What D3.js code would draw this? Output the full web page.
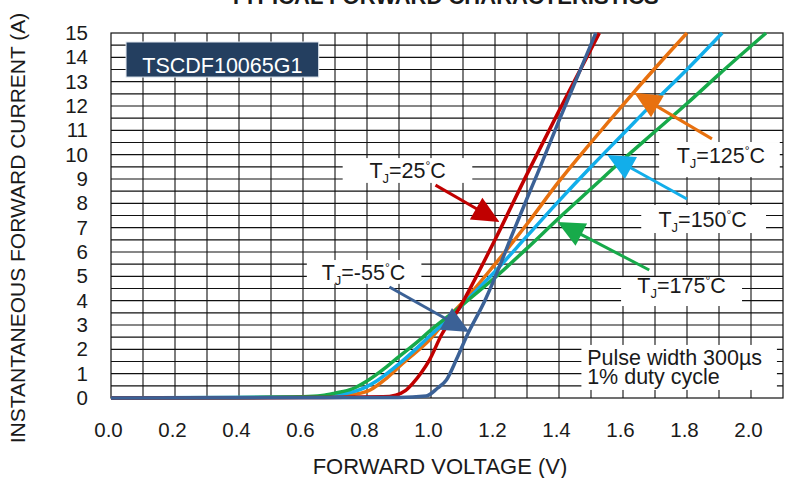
<!DOCTYPE html>
<html>
<head>
<meta charset="utf-8">
<script src="https://cdn.jsdelivr.net/npm/d3@7"></script>
<style>
	body { margin: 0; background: #fff; }
	svg text { font-family: "Liberation Sans", Arial, sans-serif; fill: #1a1a1a; }
</style>
</head>
<body>
<svg id="chart" width="790" height="478"></svg>
<script>
const Width = 790;
const Height = 478;
const margin = { top: 33, right: 6, bottom: 80, left: 111 };

// forward characteristic curves, [voltage (V), current (A)]
const curve175 = [[0, 0], [0.3, 0.01], [0.6, 0.05], [0.66, 0.1], [0.70, 0.2], [0.755, 0.38], [0.80, 0.7], [0.86, 1.27], [0.90, 1.7], [0.964, 2.38], [1.0, 2.8], [1.067, 3.5], [1.10, 3.85], [1.2, 4.95], [1.3, 6.15], [1.4, 7.4], [1.5, 8.6], [1.6, 9.8], [1.7, 10.95], [1.8, 12.1], [1.9, 13.3], [2.047, 15]];
const curve150 = [[0, 0], [0.6, 0.04], [0.68, 0.08], [0.72, 0.15], [0.78, 0.35], [0.83, 0.7], [0.9, 1.4], [0.96, 2.1], [1.0, 2.6], [1.083, 3.6], [1.1, 3.85], [1.2, 5.2], [1.3, 6.65], [1.4, 8.1], [1.5, 9.5], [1.6, 10.85], [1.7, 12.2], [1.8, 13.5], [1.91, 15]];
const curve125 = [[0, 0], [0.6, 0.03], [0.72, 0.08], [0.76, 0.15], [0.81, 0.33], [0.86, 0.8], [0.912, 1.43], [0.995, 2.38], [1.067, 3.5], [1.1, 3.95], [1.2, 5.5], [1.3, 7.15], [1.4, 8.9], [1.5, 10.5], [1.6, 12.05], [1.7, 13.55], [1.80, 15]];
const curve25 = [[0, 0], [0.6, 0.02], [0.85, 0.05], [0.89, 0.12], [0.92, 0.3], [0.943, 0.6], [0.97, 1.05], [0.995, 1.56], [1.033, 2.6], [1.089, 3.7], [1.114, 4.3], [1.2, 6.5], [1.3, 9.2], [1.4, 11.8], [1.526, 15]];
const curveMinus55 = [[0, 0], [0.9, 0.02], [0.985, 0.08], [1.02, 0.4], [1.048, 0.74], [1.08, 1.6], [1.11, 2.5], [1.17, 4.05], [1.214, 5.4], [1.25, 6.6], [1.3, 8.2], [1.332, 9.2], [1.4, 11.4], [1.515, 15]];

// draw order matches the picture: blue ends up on top
const series = [
	{ temp: "125", color: "#E8710F", points: curve125 },
	{ temp: "150", color: "#12AEEA", points: curve150 },
	{ temp: "175", color: "#17AA4A", points: curve175 },
	{ temp: "25", color: "#C00000", points: curve25 },
	{ temp: "-55", color: "#3B6196", points: curveMinus55 }
];

const voltTicks = [0, 0.2, 0.4, 0.6, 0.8, 1.0, 1.2, 1.4, 1.6, 1.8, 2.0];
const currentTicks = [0, 1, 2, 3, 4, 5, 6, 7, 8, 9, 10, 11, 12, 13, 14, 15];

// callouts, all placed in data units: box [v0, v1, i0, i1], text anchor, arrow start and tip
const callouts = [
	{ temp: "25", color: "#C00000", box: [0.724, 1.129, 8.84, 9.86], text: [0.927, 9.04], from: [1.014, 8.75], to: [1.214, 7.23] },
	{ temp: "-55", color: "#3B6196", box: [0.612, 0.970, 4.69, 5.67], text: [0.789, 4.85], from: [0.870, 4.56], to: [1.120, 2.71] },
	{ temp: "125", color: "#E8710F", box: [1.713, 2.090, 9.08, 10.52], text: [1.906, 9.66], from: [1.878, 10.65], to: [1.635, 12.54] },
	{ temp: "150", color: "#12AEEA", box: [1.657, 2.047, 6.78, 7.93], text: [1.849, 7.03], from: [1.800, 8.18], to: [1.551, 9.99] },
	{ temp: "175", color: "#17AA4A", box: [1.594, 1.972, 3.78, 4.97], text: [1.783, 4.32], from: [1.682, 5.26], to: [1.395, 7.23] }
];

const noteLines = ["Pulse width 300\u00b5s", "1% duty cycle"];

const chart = d3.select("#chart");

const x = d3.scaleLinear().domain([0, 2.1]).range([margin.left, Width - margin.right - 1]);
const y = d3.scaleLinear().domain([0, 15]).range([Height - margin.bottom, margin.top]);

// grid: every 0.1 V and every 0.5 A
const grid = chart.append("g").attr("stroke", "#111").attr("stroke-width", 1.1);
grid.selectAll("line.v").data(d3.range(1, 21).map(d => d / 10)).enter().append("line")
	.attr("x1", d => x(d)).attr("x2", d => x(d)).attr("y1", y(0)).attr("y2", y(15));
grid.selectAll("line.h").data(d3.range(1, 30).map(d => d / 2)).enter().append("line")
	.attr("x1", x(0)).attr("x2", x(2.1)).attr("y1", d => y(d)).attr("y2", d => y(d));

// axes, only labels are shown, the frame is drawn separately
const xaxis = chart.append("g").attr("transform", `translate(0,${y(0)})`)
	.call(d3.axisBottom(x).tickValues(voltTicks).tickFormat(d3.format(".1f")).tickSize(0).tickPadding(24));
xaxis.select(".domain").remove();
xaxis.selectAll("text").attr("font-size", 20.5).attr("dx", -3).attr("font-family", null).attr("fill", "#1a1a1a");

const yaxis = chart.append("g").attr("transform", `translate(${x(0)},0)`)
	.call(d3.axisLeft(y).tickValues(currentTicks).tickSize(0).tickPadding(23));
yaxis.select(".domain").remove();
yaxis.selectAll("text").attr("font-size", 20.5).attr("font-family", null).attr("fill", "#1a1a1a");

chart.append("rect")
	.attr("x", x(0)).attr("y", y(15)).attr("width", x(2.1) - x(0)).attr("height", y(0) - y(15))
	.attr("fill", "none").attr("stroke", "#111").attr("stroke-width", 1.2);

// curves
const line = d3.line().x(d => x(d[0])).y(d => y(d[1])).curve(d3.curveMonotoneX);
chart.selectAll("path.curve").data(series).enter().append("path")
	.attr("class", "curve")
	.attr("d", d => line(d.points))
	.attr("fill", "none")
	.attr("stroke", d => d.color)
	.attr("stroke-width", 3.5)
	.attr("stroke-linejoin", "round");

// part number badge
const badge = chart.append("g");
badge.append("rect")
	.attr("x", x(0.047)).attr("y", y(14.63)).attr("width", x(0.649) - x(0.047)).attr("height", y(13.19) - y(14.63))
	.attr("fill", "#243F60").attr("stroke", "#dfe6ee").attr("stroke-width", 1);
badge.append("text")
	.attr("x", x(0.348)).attr("y", y(13.37)).attr("text-anchor", "middle")
	.attr("font-size", 21.5).style("fill", "#fff").text("TSCDF10065G1");

// callouts with arrows
const callout = chart.selectAll("g.callout").data(callouts).enter().append("g").attr("class", "callout");
callout.append("rect")
	.attr("x", d => x(d.box[0])).attr("y", d => y(d.box[3]))
	.attr("width", d => x(d.box[1]) - x(d.box[0])).attr("height", d => y(d.box[2]) - y(d.box[3]))
	.attr("fill", "#fff");
const label = callout.append("text")
	.attr("x", d => x(d.text[0])).attr("y", d => y(d.text[1]))
	.attr("text-anchor", "middle").attr("font-size", 21.5);
label.append("tspan").text("T");
label.append("tspan").attr("font-size", 13).attr("dy", 5).text("J");
label.append("tspan").attr("dy", -5).text(d => "=" + d.temp);
label.append("tspan").attr("font-size", 12).attr("dy", -8).text("\u00b0");
label.append("tspan").attr("dy", 8).text("C");

callout.each(function(d) {
	const g = d3.select(this);
	const x0 = x(d.from[0]), y0 = y(d.from[1]);
	const x1 = x(d.to[0]), y1 = y(d.to[1]);
	const len = Math.hypot(x1 - x0, y1 - y0);
	const ux = (x1 - x0) / len, uy = (y1 - y0) / len;
	const headLength = 27, headHalf = 12.5;
	const bx = x1 - ux * headLength, by = y1 - uy * headLength;
	g.append("line")
		.attr("x1", x0).attr("y1", y0).attr("x2", bx + ux * 2).attr("y2", by + uy * 2)
		.attr("stroke", d.color).attr("stroke-width", 3);
	g.append("path")
		.attr("d", `M${x1},${y1}L${bx - uy * headHalf},${by + ux * headHalf}L${bx + uy * headHalf},${by - ux * headHalf}Z`)
		.attr("fill", d.color);
});

// test condition note
const note = chart.append("g");
note.append("rect")
	.attr("x", x(1.470)).attr("y", y(2.18)).attr("width", x(2.081) - x(1.470)).attr("height", y(0.33) - y(2.18))
	.attr("fill", "#fff");
note.selectAll("text").data(noteLines).enter().append("text")
	.attr("x", x(1.488)).attr("y", (d, i) => y(i ? 0.56 : 1.34))
	.attr("font-size", 21.5).text(d => d);

// titles
chart.append("text")
	.attr("x", 444).attr("y", 4).attr("text-anchor", "middle")
	.attr("font-size", 22).attr("font-weight", "bold").text("TYPICAL FORWARD CHARACTERISTICS");
chart.append("text")
	.attr("x", 440).attr("y", 474).attr("text-anchor", "middle")
	.attr("font-size", 22).text("FORWARD VOLTAGE (V)");
chart.append("text")
	.attr("transform", "translate(25,228) rotate(-90)").attr("text-anchor", "middle")
	.attr("font-size", 21).text("INSTANTANEOUS FORWARD CURRENT (A)");
</script>
</body>
</html>
